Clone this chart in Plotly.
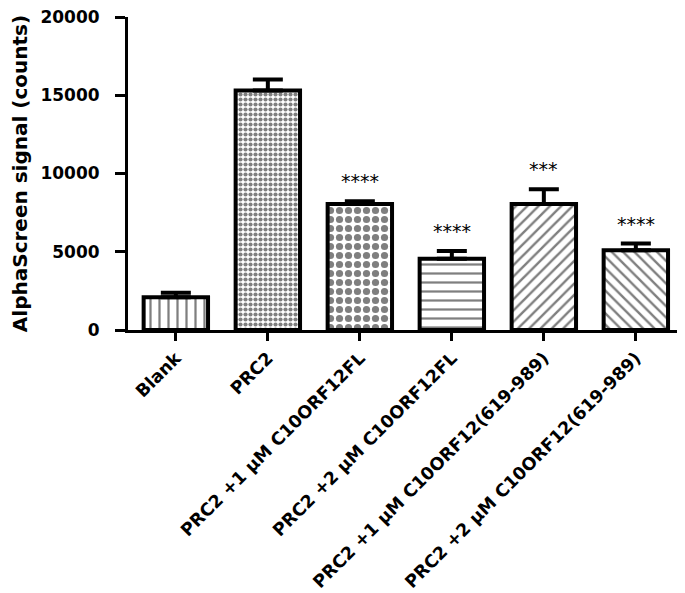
import plotly.graph_objects as go

categories = ["Blank", "PRC2", "PRC2 +1 μM C10ORF12FL", "PRC2 +2 μM C10ORF12FL",
              "PRC2 +1 μM C10ORF12(619-989)", "PRC2 +2 μM C10ORF12(619-989)"]
values = [2100, 15300, 8050, 4550, 8050, 5100]
errors = [280, 700, 180, 500, 950, 420]
stars = ["", "", "****", "****", "***", "****"]
patterns = ["|", ".", ".", "-", "/", "\\"]
pattern_sizes = [9, 5, 9, 9, 8, 8]
pattern_solidity = [0.25, 0.55, 0.5, 0.25, 0.3, 0.3]

FONT = "DejaVu Sans"

fig = go.Figure()
fig.add_trace(go.Bar(
    x=categories, y=values, width=0.7,
    marker=dict(color="white", line=dict(color="black", width=4),
                pattern=dict(shape=patterns, size=pattern_sizes, solidity=pattern_solidity,
                             fgcolor="black", bgcolor="white", fillmode="overlay")),
    error_y=dict(type="data", array=errors, arrayminus=[0]*len(errors), symmetric=False,
                 color="black", thickness=4, width=15),
    showlegend=False,
))

for c, v, e, s in zip(categories, values, errors, stars):
    if s:
        fig.add_annotation(x=c, y=v + e, text=s, showarrow=False, yanchor="middle", yshift=20,
                           font=dict(family=FONT, size=19, color="black"))

fig.update_layout(
    width=677, height=585, plot_bgcolor="white", paper_bgcolor="white",
    margin=dict(l=120, r=5, t=9, b=263, autoexpand=False),
    font=dict(family=FONT, color="black"),
)
fig.update_xaxes(
    range=[-0.52, 5.48], tickangle=-45, showline=True, linecolor="black", linewidth=3,
    ticks="outside", ticklen=8, tickwidth=3, tickcolor="black", automargin=False,
    ticklabeloverflow="allow",
    tickfont=dict(family=FONT, size=17.5, color="black", weight="bold"),
    showgrid=False, zeroline=False,
)
fig.update_yaxes(
    range=[0, 20000], tickvals=[0, 5000, 10000, 15000, 20000], tickformat="d",
    showline=True, linecolor="black", linewidth=3, automargin=False,
    ticks="outside", ticklen=10, tickwidth=3, tickcolor="black",
    ticklabelstandoff=12, ticklabeloverflow="allow",
    tickfont=dict(family=FONT, size=17, color="black", weight="bold"),
    showgrid=False, zeroline=False,
    title=dict(text="AlphaScreen signal (counts)", standoff=8,
               font=dict(family=FONT, size=20, color="black", weight="bold")),
)
fig.write_html("out.html")
